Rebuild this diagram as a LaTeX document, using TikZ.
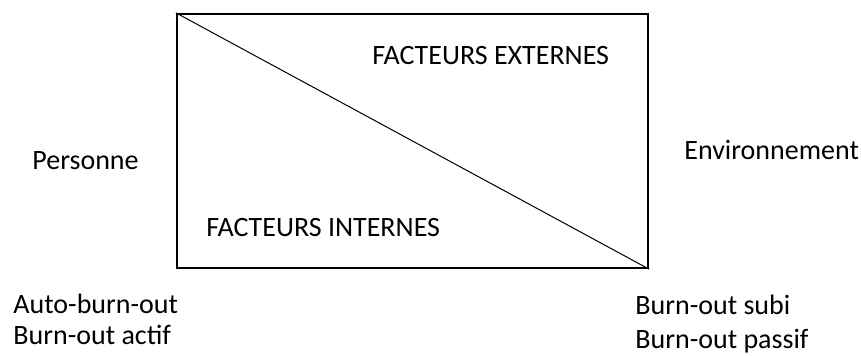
\documentclass[tikz,border=0pt]{standalone}
\usepackage{fontspec}
\setmainfont{Carlito}
\begin{document}
\begin{tikzpicture}[x=0.5pt, y=-0.5pt,
    label/.style={anchor=base west, inner sep=0pt, font=\fontsize{14}{17}\selectfont},
    cadre/.style={draw, line width=1.2pt, rectangle, inner sep=0pt, minimum width=235.5pt, minimum height=127pt}]

        \useasboundingbox (0,0) rectangle (861,356);

        % Cadre central
        \node[cadre] (cadre) at (412.5, 141) {};

        % Diagonale
        \draw[line width=0.5pt] (cadre.north west) -- (cadre.south east);

        % Facteurs
        \node[label] (externes) at (372, 65) {FACTEURS EXTERNES};
        \node[label] (internes) at (206, 237) {FACTEURS INTERNES};

        % Personne (gauche)
        \node[label] (personne) at (32, 170) {Personne};
        \node[label] (auto) at (13, 314) {Auto-burn-out};
        \node[label] (actif) at (13, 345) {Burn-out actif};

        % Environnement (droite)
        \node[label] (environ) at (684, 160) {Environnement};
        \node[label] (subi) at (635, 315) {Burn-out subi};
        \node[label] (passif) at (635, 349) {Burn-out passif};

    \end{tikzpicture}
\end{document}
